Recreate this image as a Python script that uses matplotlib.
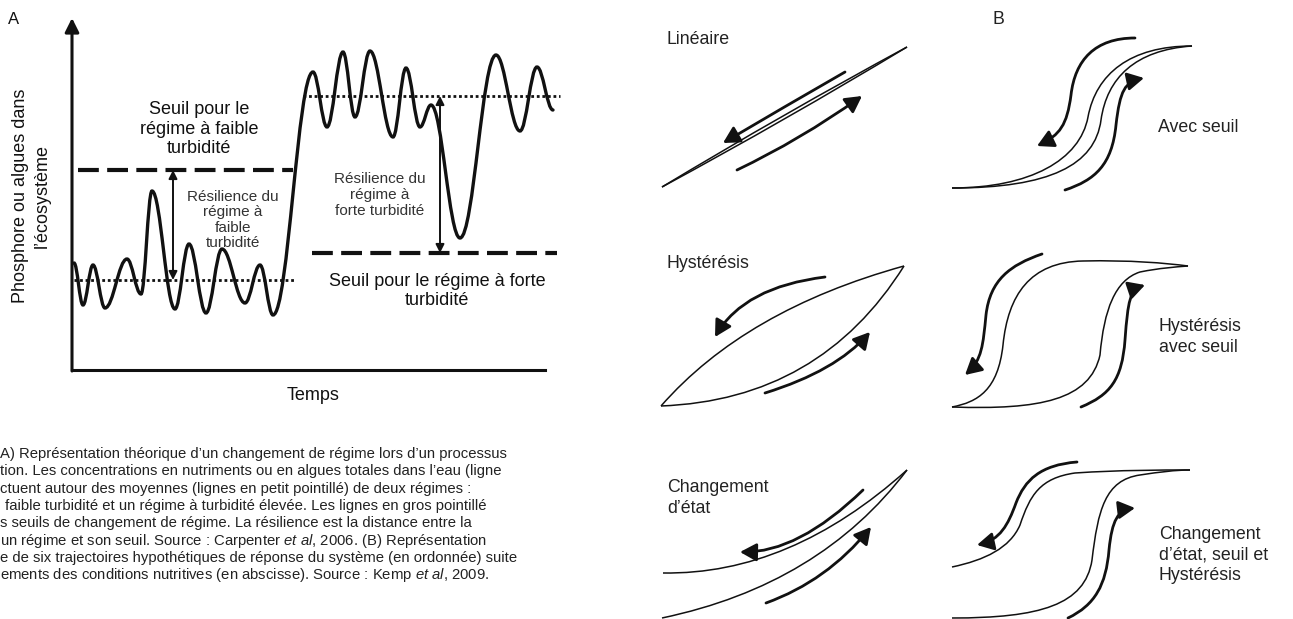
import matplotlib.pyplot as plt
from matplotlib.path import Path
from matplotlib.patches import PathPatch, FancyArrowPatch

plt.rcParams['font.family'] = ['Liberation Sans', 'DejaVu Sans']
plt.rcParams['mathtext.fontset'] = 'custom'
plt.rcParams['mathtext.rm'] = 'Liberation Sans'
plt.rcParams['mathtext.it'] = 'Liberation Sans:italic'

INK = '#111111'

# ---- panel A : turning points of the system trajectory (time, level)
wave_t = [2, 11, 21, 33, 55, 69, 80, 103, 117, 134, 150, 173, 188, 201,
          241, 255, 271, 283, 298, 321, 334, 348, 359, 388, 424, 448, 465, 481]
wave_y = [107, 65, 105, 62, 111, 76, 179, 61, 126, 57, 121, 67, 105, 55,
          298, 243, 318, 253, 319, 233, 302, 243, 265, 132, 315, 239, 303, 260]
low_mean, high_mean = 90, 274          # small dotted lines
low_thr, high_thr = 200, 117           # big dashed lines
low_mean_span, high_mean_span = (2, 224), (231, 488)
low_thr_span, high_thr_span = (6, 221), (240, 485)
resil_low_t, resil_high_t = 101, 368

# ---- panel B : sketches, bezier control points (pixels of the picture)
lin_curves = [[(662, 187), (783, 114), (907, 47)],
              [(662, 187), (786, 120), (907, 47)]]
lin_arrows = [[(845, 72), (784, 107), (723, 143)],
              [(737, 170), (800, 140), (862, 96)]]

seuil_curves = [[(952, 188), (1030, 188), (1080, 160), (1088, 117),
                 (1096, 74), (1130, 46), (1192, 46)],
                [(952, 188), (1050, 188), (1095, 165), (1101, 120),
                 (1107, 78), (1135, 50), (1192, 46)]]
seuil_arrows = [[(1135, 38), (1095, 38), (1075, 60), (1071, 95),
                 (1067, 125), (1060, 135), (1037, 146)],
                [(1065, 190), (1095, 180), (1112, 165), (1116, 125),
                 (1120, 90), (1125, 82), (1144, 78)]]

hyst_curves = [[(661, 406), (745, 310), (904, 266)],
               [(661, 406), (820, 400), (904, 266)]]
hyst_arrows = [[(825, 277), (744, 287), (715, 337)],
               [(765, 393), (836, 371), (870, 332)]]

hseuil_curves = [[(952, 407), (978, 402), (998, 390), (1003, 345),
                  (1008, 295), (1030, 262), (1083, 261),
                  (1130, 260), (1165, 263), (1188, 266)],
                 [(952, 407), (1040, 410), (1090, 400), (1100, 355),
                  (1104, 310), (1115, 280), (1140, 272),
                  (1160, 268), (1175, 267), (1188, 266)]]
hseuil_arrows = [[(1042, 254), (1010, 265), (990, 280), (986, 315),
                  (983, 345), (982, 360), (965, 375)],
                 [(1081, 407), (1110, 395), (1122, 380), (1125, 340),
                  (1128, 300), (1130, 290), (1145, 285)]]

etat_curves = [[(663, 573), (790, 575), (907, 470)],
               [(662, 618), (820, 585), (907, 470)]]
etat_arrows = [[(863, 490), (798, 553), (740, 552)],
               [(766, 603), (827, 581), (871, 527)]]

tout_curves = [[(952, 567), (985, 560), (1010, 548), (1020, 525),
                (1030, 495), (1040, 478), (1075, 473),
                (1120, 470), (1160, 470), (1190, 470)],
               [(952, 618), (1040, 618), (1085, 605), (1092, 560),
                (1098, 510), (1105, 480), (1140, 475),
                (1160, 472), (1175, 470), (1190, 470)]]
tout_arrows = [[(1077, 462), (1040, 465), (1025, 480), (1016, 503),
                (1008, 525), (1000, 540), (977, 545)],
               [(1068, 618), (1095, 605), (1106, 585), (1109, 550),
                (1112, 520), (1118, 510), (1135, 508)]]

caption = [
    "A) Représentation théorique d’un changement de régime lors d’un processus",
    "tion. Les concentrations en nutriments ou en algues totales dans l’eau (ligne",
    "ctuent autour des moyennes (lignes en petit pointillé) de deux régimes :",
    "faible turbidité et un régime à turbidité élevée. Les lignes en gros pointillé",
    "s seuils de changement de régime. La résilience est la distance entre la",
    "un régime et son seuil. Source : Carpenter $\\mathit{et\\ al}$, 2006. (B) Représentation",
    "e de six trajectoires hypothétiques de réponse du système (en ordonnée) suite",
    "ements des conditions nutritives (en abscisse). Source : Kemp $\\mathit{et\\ al}$, 2009.",
]
caption_indent = [0, 0, 0, 5, 0, 0, 0, 0]


def bezier(points):
    if len(points) == 3:
        codes = [Path.MOVETO, Path.CURVE3, Path.CURVE3]
    else:
        codes = [Path.MOVETO] + [Path.CURVE4] * (len(points) - 1)
    return Path(points, codes)


def wave_path(ts, ys, k=0.38):
    verts = [(ts[0], ys[0])]
    for i in range(len(ts) - 1):
        dt = ts[i + 1] - ts[i]
        verts += [(ts[i] + k * dt, ys[i]), (ts[i + 1] - k * dt, ys[i + 1]),
                  (ts[i + 1], ys[i + 1])]
    return bezier(verts)


W, H = 1293, 619
fig = plt.figure(figsize=(W / 100, H / 100), dpi=100)

# ---------------- panel A
ax = fig.add_axes([72 / W, 249 / H, 488 / W, 350 / H])
ax.set_xlim(0, 488)
ax.set_ylim(0, 350)
ax.axis('off')

ax.annotate('', xy=(0, 352), xytext=(0, -1),
            arrowprops=dict(arrowstyle='-|>,head_length=0.6,head_width=0.3',
                            mutation_scale=14, lw=2.2, color=INK,
                            shrinkA=0, shrinkB=0), annotation_clip=False)
ax.plot([0, 473], [0, 0], color=INK, lw=2.2, clip_on=False)

ax.plot(low_mean_span, [low_mean] * 2, color=INK, lw=2, ls=(0, (1, 1)))
ax.plot(high_mean_span, [high_mean] * 2, color=INK, lw=2, ls=(0, (1, 1)),
        clip_on=False)
ax.plot(low_thr_span, [low_thr] * 2, color=INK, lw=3, ls=(0, (5, 2)))
ax.plot(high_thr_span, [high_thr] * 2, color=INK, lw=3, ls=(0, (5, 2)))

ax.add_patch(PathPatch(wave_path(wave_t, wave_y), fill=False, lw=2.4,
                       ec=INK, clip_on=False, capstyle='round'))

for t, y0, y1 in [(resil_low_t, low_mean, low_thr),
                  (resil_high_t, high_thr, high_mean)]:
    ax.annotate('', xy=(t, y1), xytext=(t, y0),
                arrowprops=dict(arrowstyle='<|-|>,head_length=0.5,head_width=0.25',
                                mutation_scale=10, lw=1.4, color=INK,
                                shrinkA=0, shrinkB=0))

ax.text(127, 241, "Seuil pour le\nrégime à faible\nturbidité", fontsize=13,
        ha='center', va='center', color=INK, linespacing=1.2)
ax.text(161, 150, "Résilience du\nrégime à\nfaible\nturbidité", fontsize=11,
        ha='center', va='center', color='#333333', linespacing=1.15)
ax.text(308, 175, "Résilience du\nrégime à\nforte turbidité", fontsize=11,
        ha='center', va='center', color='#333333', linespacing=1.15)
ax.text(365, 79, "Seuil pour le régime à forte\nturbidité", fontsize=13,
        ha='center', va='center', color=INK, linespacing=1.2)
ax.text(-41, 174, "Phosphore ou algues dans\nl’écosystème", fontsize=13,
        rotation=90, ha='center', va='center', color=INK, linespacing=1.35,
        multialignment='center')
ax.text(241, -25, "Temps", fontsize=13, ha='center', va='center', color=INK)
ax.text(-58, 350, "A", fontsize=12, ha='center', va='center', color=INK)

# ---------------- panel B and caption, in picture pixels
bx = fig.add_axes([0, 0, 1, 1])
bx.set_xlim(0, W)
bx.set_ylim(H, 0)
bx.axis('off')
bx.set_zorder(-1)

for curves, arrows in [(lin_curves, lin_arrows), (seuil_curves, seuil_arrows),
                       (hyst_curves, hyst_arrows), (hseuil_curves, hseuil_arrows),
                       (etat_curves, etat_arrows), (tout_curves, tout_arrows)]:
    for c in curves:
        bx.add_patch(PathPatch(bezier(c), fill=False, lw=1.1, ec=INK))
    for a in arrows:
        bx.add_patch(FancyArrowPatch(
            path=bezier(a), color=INK, lw=2.0, mutation_scale=18,
            arrowstyle='-|>,head_length=0.55,head_width=0.3'))

lab = dict(fontsize=12.8, ha='left', va='center', color='#222222',
           linespacing=1.3)
bx.text(992, 19, "B", **lab)
bx.text(667, 40, "Linéaire", **lab)
bx.text(1158, 127, "Avec seuil", **lab)
bx.text(667, 263, "Hystérésis", **lab)
bx.text(1159, 337, "Hystérésis\navec seuil", **lab)
bx.text(667, 498, "Changement\nd’état", **lab)
bx.text(1159, 555, "Changement\nd’état, seuil et\nHystérésis", **lab)

for i, (line, dx) in enumerate(zip(caption, caption_indent)):
    bx.text(dx, 454 + i * 17.3, line, fontsize=10.7, ha='left', va='center',
            color='#222222')

fig.savefig('out.png', dpi=100)
